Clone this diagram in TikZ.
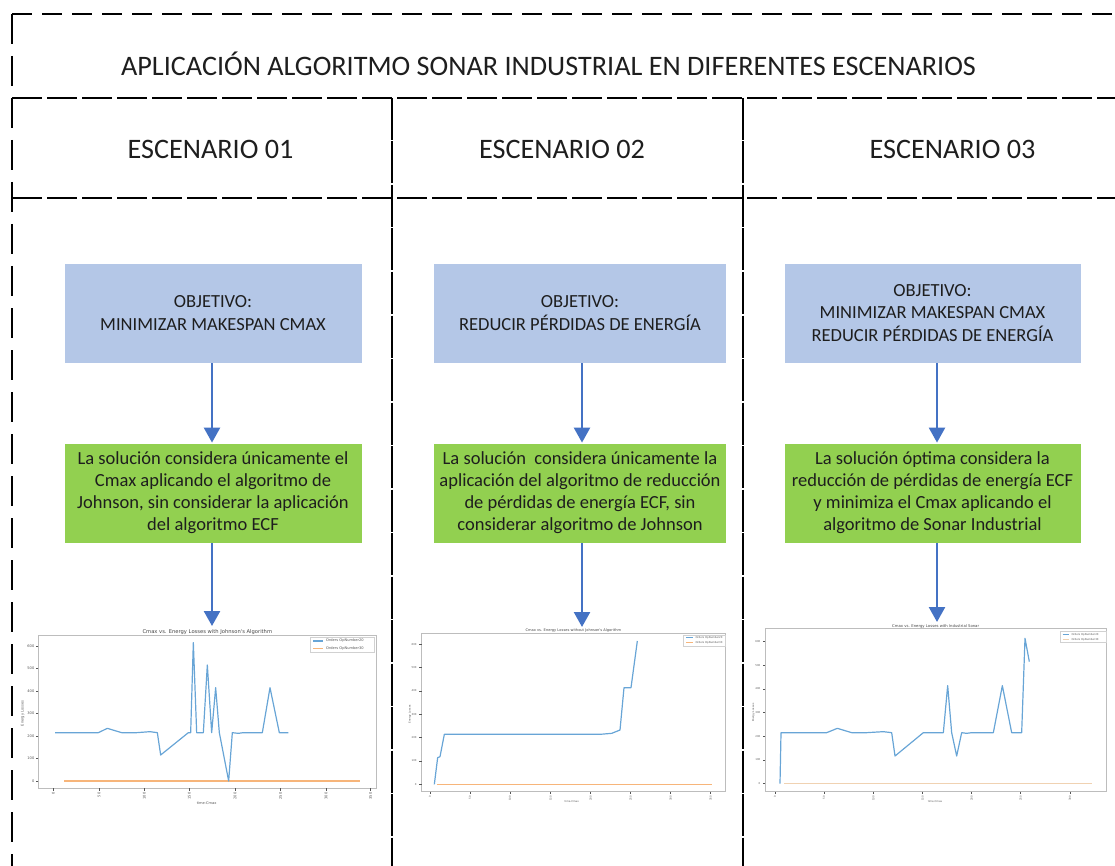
\documentclass[tikz,border=0pt]{standalone}
\usepackage{fontspec}
\setmainfont{Carlito}
\newfontfamily\mpl{DejaVu Sans}
\usetikzlibrary{arrows.meta}
\definecolor{objblue}{HTML}{B4C7E7}
\definecolor{solgreen}{HTML}{92D050}
\definecolor{arrblue}{HTML}{4472C4}
\definecolor{txt}{HTML}{1E1E1E}
\definecolor{plotblue}{HTML}{68A5D6}
\definecolor{plotorange}{HTML}{F7B57A}
\definecolor{plotsand}{HTML}{F0D2B2}
\definecolor{framegray}{HTML}{BDBDBD}
\definecolor{mpltext}{HTML}{555555}
\tikzset{
  framedash/.style={line width=1.1pt, dash pattern=on 20pt off 10pt},
  sidedash/.style={line width=1.1pt, dash pattern=on 30pt off 12pt},
  rowdash/.style={line width=1.1pt, dash pattern=on 30pt off 5pt},
  coldash/.style={line width=1.1pt, dash pattern=on 42pt off 1.5pt},
  headtext/.style={font=\fontsize{28.2}{32}\selectfont, text=txt},
  objbox/.style={fill=objblue, draw=white, line width=0.8pt, inner sep=0pt, minimum height=100pt, align=center, text=txt, font=\fontsize{18.5}{22.7}\selectfont},
  solbox/.style={fill=solgreen, draw=white, line width=0.8pt, inner sep=0pt, minimum height=100pt, align=center, text=txt, font=\fontsize{18.5}{22}\selectfont},
  arr/.style={draw=arrblue, line width=2.5pt, -{Triangle[width=16pt,length=15pt]}},
  plotframe/.style={draw=framegray, line width=0.7pt},
  tk/.style={draw=mpltext, line width=0.4pt},
  ytl/.style={anchor=east, inner sep=0.5pt, text=mpltext},
  xtl/.style={anchor=east, rotate=90, inner sep=0.5pt, text=mpltext},
  ctitle/.style={text=mpltext!80!black, inner sep=0pt},
  leg/.style={anchor=west, inner sep=0pt, text=mpltext},
  legframe/.style={draw=framegray!70, line width=0.4pt},
  bline/.style={draw=plotblue, line width=1.2pt, line join=round},
  oline/.style={draw=plotorange, line width=1.3pt},
  sline/.style={draw=plotsand, line width=1.6pt},
}
\begin{document}
\begin{tikzpicture}[x=1pt, y=-1pt]
\useasboundingbox (0,0) rectangle (1115,866);
\begin{scope}
\clip (0,0) rectangle (1115,866);
% frame lines
\coordinate (tl) at (12,14);
\coordinate (tr) at (1125,14);
\coordinate (bl) at (12,870);
\coordinate (r1l) at (12,98);
\coordinate (r1r) at (1125,98);
\coordinate (r2l) at (12,198);
\coordinate (r2r) at (1125,198);
\coordinate (c1t) at (392,98);
\coordinate (c1b) at (392,870);
\coordinate (c2t) at (743,98);
\coordinate (c2b) at (743,870);
\draw[framedash] (tl) -- (tr);
\draw[sidedash] (tl) -- (bl);
\draw[rowdash] (r1l) -- (r1r);
\draw[rowdash] (r2l) -- (r2r);
\draw[coldash] (c1t) -- (c1b);
\draw[coldash] (c2t) -- (c2b);
\end{scope}

% headings
\node[headtext] (title) at (548.5,64) {APLICACIÓN ALGORITMO SONAR INDUSTRIAL EN DIFERENTES ESCENARIOS};
\node[headtext] (esc1) at (210.5,149) {ESCENARIO 01};
\node[headtext] (esc2) at (562,149) {ESCENARIO 02};
\node[headtext] (esc3) at (952.5,149) {ESCENARIO 03};

% objective boxes
\node[objbox, minimum width=298pt] (obj1) at (213,313) {OBJETIVO:\\MINIMIZAR MAKESPAN CMAX};
\node[objbox, minimum width=293pt] (obj2) at (580,313) {OBJETIVO:\\REDUCIR PÉRDIDAS DE ENERGÍA};
\node[objbox, minimum width=297pt] (obj3) at (932.5,313) {OBJETIVO:\\MINIMIZAR MAKESPAN CMAX\\REDUCIR PÉRDIDAS DE ENERGÍA};

% solution boxes
\node[solbox, minimum width=298pt] (sol1) at (213,493) {La solución considera únicamente el\\Cmax aplicando el algoritmo de\\Johnson, sin considerar la aplicación\\del algoritmo ECF};
\node[solbox, minimum width=293pt] (sol2) at (580,493) {La solución\ \ considera únicamente la\\aplicación del algoritmo de reducción\\de pérdidas de energía ECF, sin\\considerar algoritmo de Johnson};
\node[solbox, minimum width=297pt] (sol3) at (932.5,493) {La solución óptima considera la\\reducción de pérdidas de energía ECF\\y minimiza el Cmax aplicando el\\algoritmo de Sonar Industrial};

% arrows
\coordinate (a1) at (212,626);
\coordinate (a2) at (582,627);
\coordinate (a3) at (937,622);
\draw[arr] (obj1.south -| a1) -- (sol1.north -| a1);
\draw[arr] (sol1.south -| a1) -- (a1);
\draw[arr] (obj2.south -| a2) -- (sol2.north -| a2);
\draw[arr] (sol2.south -| a2) -- (a2);
\draw[arr] (obj3.south -| a3) -- (sol3.north -| a3);
\draw[arr] (sol3.south -| a3) -- (a3);

% ---------- chart 1 ----------
\begin{scope}[shift={(30,620)}, scale=0.33333, font=\mpl\fontsize{3.6}{4}\selectfont]
\draw[plotframe] (25,45) rectangle (1040,505);
\node[ctitle, font=\mpl\fontsize{5.2}{6}\selectfont] (t1) at (532,35) {Cmax vs. Energy Losses with Johnson's Algorithm};
\foreach \v/\yy in {0/483,100/415,200/348,300/281,400/213,500/146,600/78} {
  \draw[tk] (25,\yy) -- (17,\yy);
  \node[ytl] (c1y\v) at (15,\yy) {\v};
}
\foreach \v/\xx in {0/70,50/207,100/343,150/478,200/615,250/752,300/888,350/1022} {
  \draw[tk] (\xx,505) -- (\xx,513);
  \node[xtl] (c1x\v) at (\xx,516) {\v};
}
\node[rotate=90, text=mpltext] (c1yl) at (-22,280) {Energy Losses};
\node[text=mpltext] (c1xl) at (530,548) {time-Cmax};
\draw[oline] (102,483) -- (990,483);
\draw[bline] (75,338) -- (205,338) -- (232,325) -- (275,338) -- (320,338) -- (360,335) -- (382,338) -- (392,405) -- (475,338) -- (482,338) -- (490,68) -- (500,338) -- (520,338) -- (532,135) -- (545,338) -- (557,203) -- (568,338) -- (596,483) -- (607,338) -- (625,340) -- (640,338) -- (697,338) -- (720,203) -- (748,338) -- (775,338);
\draw[legframe] (840,52) rectangle (1032,97);
\draw[bline] (850,63) -- (880,63);
\node[leg] (c1l1) at (888,63) {Orders OpNumber20};
\draw[oline] (850,85) -- (880,85);
\node[leg] (c1l2) at (888,85) {Orders OpNumber30};
\end{scope}

% ---------- chart 2 ----------
\begin{scope}[shift={(400,620)}, scale=0.33333, font=\mpl\fontsize{2.6}{3}\selectfont]
\draw[plotframe] (65,40) rectangle (975,515);
\node[ctitle, font=\mpl\fontsize{3.6}{4}\selectfont] (t2) at (520,31) {Cmax vs. Energy Losses without Johnson's Algorithm};
\foreach \v/\yy in {0/493,100/423,200/353,300/283,400/213,500/143,600/73} {
  \draw[tk] (65,\yy) -- (58,\yy);
  \node[ytl] (c2y\v) at (52,\yy) {\v};
}
\foreach \v/\xx in {0/90,50/210,100/330,150/452,200/572,250/692,300/812,350/932} {
  \draw[tk] (\xx,515) -- (\xx,522);
  \node[xtl] (c2x\v) at (\xx,525) {\v};
}
\node[rotate=90, text=mpltext] (c2yl) at (30,283) {Energy Losses};
\node[text=mpltext] (c2xl) at (515,545) {time-Cmax};
\draw[oline] (110,493) -- (935,493);
\draw[bline] (103,493) -- (113,413) -- (120,410) -- (133,343) -- (140,343) -- (600,343) -- (635,340) -- (660,330) -- (672,203) -- (693,203) -- (712,63);
\draw[legframe] (850,45) rectangle (975,80);
\draw[bline] (858,53) -- (880,53);
\node[leg] (c2l1) at (886,53) {Orders OpNumber20};
\draw[oline] (858,67) -- (880,67);
\node[leg] (c2l2) at (886,67) {Orders OpNumber30};
\end{scope}

% ---------- chart 3 ----------
\begin{scope}[shift={(750,620)}, scale=0.33333, font=\mpl\fontsize{2.6}{3}\selectfont]
\draw[plotframe] (45,25) rectangle (1070,515);
\node[ctitle, font=\mpl\fontsize{3.8}{4}\selectfont] (t3) at (557,19) {Cmax vs. Energy Losses with Industrial Sonar};
\foreach \v/\yy in {0/491,100/420,200/349,300/278,400/207,500/136,600/64} {
  \draw[tk] (45,\yy) -- (38,\yy);
  \node[ytl] (c3y\v) at (33,\yy) {\v};
}
\foreach \v/\xx in {0/75,50/222,100/370,150/518,200/665,250/812,300/960} {
  \draw[tk] (\xx,515) -- (\xx,522);
  \node[xtl] (c3x\v) at (\xx,525) {\v};
}
\node[rotate=90, text=mpltext] (c3yl) at (10,278) {Energy Losses};
\node[text=mpltext] (c3xl) at (555,545) {time-Cmax};
\draw[sline] (103,491) -- (1025,491);
\draw[bline] (90,491) -- (93,338) -- (230,338) -- (262,325) -- (305,338) -- (350,338) -- (400,335) -- (425,338) -- (435,408) -- (520,338) -- (580,338) -- (593,197) -- (605,338) -- (620,408) -- (635,338) -- (650,340) -- (665,338) -- (730,338) -- (757,197) -- (785,338) -- (815,338) -- (825,55) -- (838,125);
\draw[legframe] (930,35) rectangle (1068,68);
\draw[bline] (938,44) -- (958,44);
\node[leg] (c3l1) at (964,44) {Orders OpNumber20};
\draw[sline] (938,58) -- (958,58);
\node[leg] (c3l2) at (964,58) {Orders OpNumber30};
\end{scope}
\end{tikzpicture}
\end{document}
